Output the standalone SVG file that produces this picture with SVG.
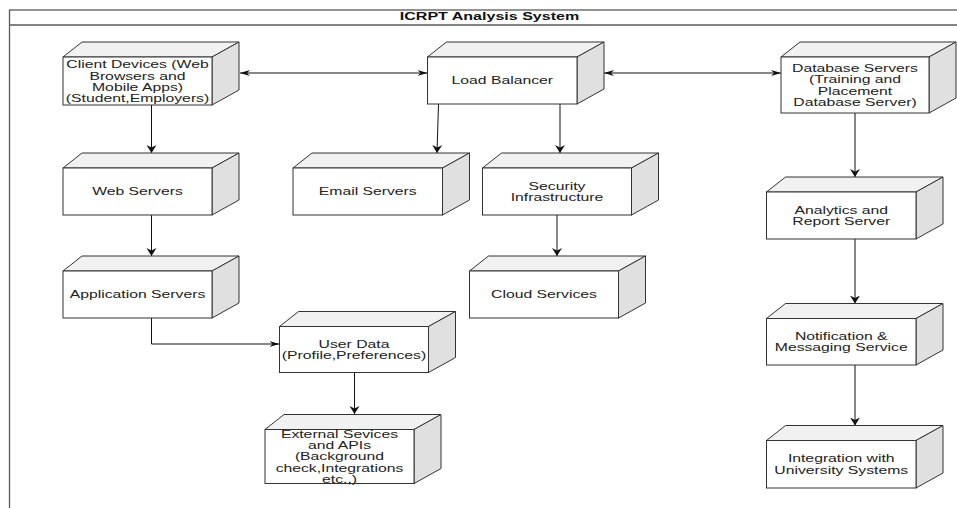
<svg xmlns="http://www.w3.org/2000/svg" width="957" height="508" viewBox="0 0 957 508">
<defs>
<style>
.frame{fill:none;stroke:#5a5a5a;stroke-width:1.3}
.f{fill:#fff;stroke:#333;stroke-width:1}
.tp{fill:#f1f1f1;stroke:#333;stroke-width:1;stroke-linejoin:round}
.rt{fill:#e0e0e0;stroke:#333;stroke-width:1;stroke-linejoin:round}
.t{font-family:"Liberation Sans",Arial,sans-serif;font-size:10.5px;fill:#222;text-anchor:middle}
.title{font-family:"Liberation Sans",Arial,sans-serif;font-size:10.7px;font-weight:bold;fill:#111;text-anchor:middle}
.c{fill:none;stroke:#111;stroke-width:1}
.h{marker-end:url(#mH);marker-start:url(#mH)}
.v{marker-end:url(#mV)}
.ve{marker-end:url(#mH)}
</style>
<marker id="mH" markerUnits="userSpaceOnUse" markerWidth="11" markerHeight="7" refX="10" refY="3" orient="auto-start-reverse" viewBox="0 0 11 7">
<path d="M0,0 L10,3 L0,6 L3,3 z" fill="#111"/>
</marker>
<marker id="mV" markerUnits="userSpaceOnUse" markerWidth="9" markerHeight="11" refX="8" refY="5" orient="auto" viewBox="0 0 9 11">
<path d="M0,0 L8,5 L0,10 L2.5,5 z" fill="#111"/>
</marker>
</defs>
<rect width="957" height="508" fill="#fff"/>
<g id="frame">
<rect class="frame" x="9.5" y="10" width="1000" height="600"/>
<line class="frame" x1="9.5" y1="25" x2="957" y2="25"/>
<text class="title" transform="translate(489.5,0) scale(1.5,1)" x="0" y="20.5">ICRPT Analysis System</text>
</g>
<g id="connectors">
<path class="c h" d="M240,73 H427.5"/>
<path class="c h" d="M604,73 H781"/>
<path class="c v" d="M151.5,105 V153"/>
<path class="c v" d="M151.5,215 V256"/>
<path class="c ve" d="M151.5,318 V344 H279.5"/>
<path class="c v" d="M438.5,104 L437,153"/>
<path class="c v" d="M560,104 V153"/>
<path class="c v" d="M557,215 V256"/>
<path class="c v" d="M354.5,372.5 V414"/>
<path class="c v" d="M855,113 V177"/>
<path class="c v" d="M855,239 V303.5"/>
<path class="c v" d="M855,365 V425.5"/>
</g>
<g id="client-devices">
<polygon class="tp" points="63,57 82,42 239,42 212,57"/>
<polygon class="rt" points="212,57 239,42 239,90 212,105"/>
<rect class="f" x="63" y="57" width="149" height="48"/>
<text class="t" transform="translate(137.5,0) scale(1.5,1)"><tspan x="0" y="68.5">Client Devices (Web</tspan><tspan x="0" y="79.8">Browsers and</tspan><tspan x="0" y="91.1">Mobile Apps)</tspan><tspan x="0" y="102.4">(Student,Employers)</tspan></text>
</g>
<g id="load-balancer">
<polygon class="tp" points="427.5,57 446.5,42 604,42 577,57"/>
<polygon class="rt" points="577,57 604,42 604,89 577,104"/>
<rect class="f" x="427.5" y="57" width="149.5" height="47"/>
<text class="t" transform="translate(502.25,0) scale(1.5,1)" x="0" y="84.4">Load Balancer</text>
</g>
<g id="database-servers">
<polygon class="tp" points="781,57 800,42 956,42 929,57"/>
<polygon class="rt" points="929,57 956,42 956,98 929,113"/>
<rect class="f" x="781" y="57" width="148" height="56"/>
<text class="t" transform="translate(855,0) scale(1.5,1)"><tspan x="0" y="72.2">Database Servers</tspan><tspan x="0" y="83.5">(Training and</tspan><tspan x="0" y="94.8">Placement</tspan><tspan x="0" y="106.1">Database Server)</tspan></text>
</g>
<g id="web-servers">
<polygon class="tp" points="63,168 82,153 239,153 212,168"/>
<polygon class="rt" points="212,168 239,153 239,200 212,215"/>
<rect class="f" x="63" y="168" width="149" height="47"/>
<text class="t" transform="translate(137.5,0) scale(1.5,1)" x="0" y="195.2">Web Servers</text>
</g>
<g id="email-servers">
<polygon class="tp" points="293,168 312,153 469.5,153 442.5,168"/>
<polygon class="rt" points="442.5,168 469.5,153 469.5,200 442.5,215"/>
<rect class="f" x="293" y="168" width="149.5" height="47"/>
<text class="t" transform="translate(367.75,0) scale(1.5,1)" x="0" y="195.2">Email Servers</text>
</g>
<g id="security-infrastructure">
<polygon class="tp" points="482.5,168 501.5,153 658.5,153 631.5,168"/>
<polygon class="rt" points="631.5,168 658.5,153 658.5,200 631.5,215"/>
<rect class="f" x="482.5" y="168" width="149" height="47"/>
<text class="t" transform="translate(557,0) scale(1.5,1)"><tspan x="0" y="189.6">Security</tspan><tspan x="0" y="200.9">Infrastructure</tspan></text>
</g>
<g id="application-servers">
<polygon class="tp" points="63,271 82,256 239,256 212,271"/>
<polygon class="rt" points="212,271 239,256 239,303 212,318"/>
<rect class="f" x="63" y="271" width="149" height="47"/>
<text class="t" transform="translate(137.5,0) scale(1.5,1)" x="0" y="298.2">Application Servers</text>
</g>
<g id="cloud-services">
<polygon class="tp" points="469.5,271 488.5,256 645.5,256 618.5,271"/>
<polygon class="rt" points="618.5,271 645.5,256 645.5,303 618.5,318"/>
<rect class="f" x="469.5" y="271" width="149" height="47"/>
<text class="t" transform="translate(544,0) scale(1.5,1)" x="0" y="298.2">Cloud Services</text>
</g>
<g id="analytics-report-server">
<polygon class="tp" points="766.5,192 785.5,177 943,177 916,192"/>
<polygon class="rt" points="916,192 943,177 943,224 916,239"/>
<rect class="f" x="766.5" y="192" width="149.5" height="47"/>
<text class="t" transform="translate(841.25,0) scale(1.5,1)"><tspan x="0" y="213.6">Analytics and</tspan><tspan x="0" y="224.9">Report Server</tspan></text>
</g>
<g id="user-data">
<polygon class="tp" points="279.5,326.5 298.5,311.5 455.5,311.5 428.5,326.5"/>
<polygon class="rt" points="428.5,326.5 455.5,311.5 455.5,357.5 428.5,372.5"/>
<rect class="f" x="279.5" y="326.5" width="149" height="46"/>
<text class="t" transform="translate(354,0) scale(1.5,1)"><tspan x="0" y="347.6">User Data</tspan><tspan x="0" y="358.9">(Profile,Preferences)</tspan></text>
</g>
<g id="notification-messaging-service">
<polygon class="tp" points="766.5,318.5 785.5,303.5 943,303.5 916,318.5"/>
<polygon class="rt" points="916,318.5 943,303.5 943,350 916,365"/>
<rect class="f" x="766.5" y="318.5" width="149.5" height="46.5"/>
<text class="t" transform="translate(841.25,0) scale(1.5,1)"><tspan x="0" y="339.9">Notification &amp;</tspan><tspan x="0" y="351.2">Messaging Service</tspan></text>
</g>
<g id="external-services">
<polygon class="tp" points="265,429.5 284,414.5 441,414.5 414,429.5"/>
<polygon class="rt" points="414,429.5 441,414.5 441,468.5 414,483.5"/>
<rect class="f" x="265" y="429.5" width="149" height="54"/>
<text class="t" transform="translate(339.5,0) scale(1.5,1)"><tspan x="0" y="437.9">External Sevices</tspan><tspan x="0" y="449.2">and APIs</tspan><tspan x="0" y="460.5">(Background</tspan><tspan x="0" y="471.8">check,Integrations</tspan><tspan x="0" y="483.1">etc.,)</tspan></text>
</g>
<g id="integration-university-systems">
<polygon class="tp" points="766.5,440.5 785.5,425.5 943,425.5 916,440.5"/>
<polygon class="rt" points="916,440.5 943,425.5 943,473 916,488"/>
<rect class="f" x="766.5" y="440.5" width="149.5" height="47.5"/>
<text class="t" transform="translate(841.25,0) scale(1.5,1)"><tspan x="0" y="462.4">Integration with</tspan><tspan x="0" y="473.7">University Systems</tspan></text>
</g>
</svg>
